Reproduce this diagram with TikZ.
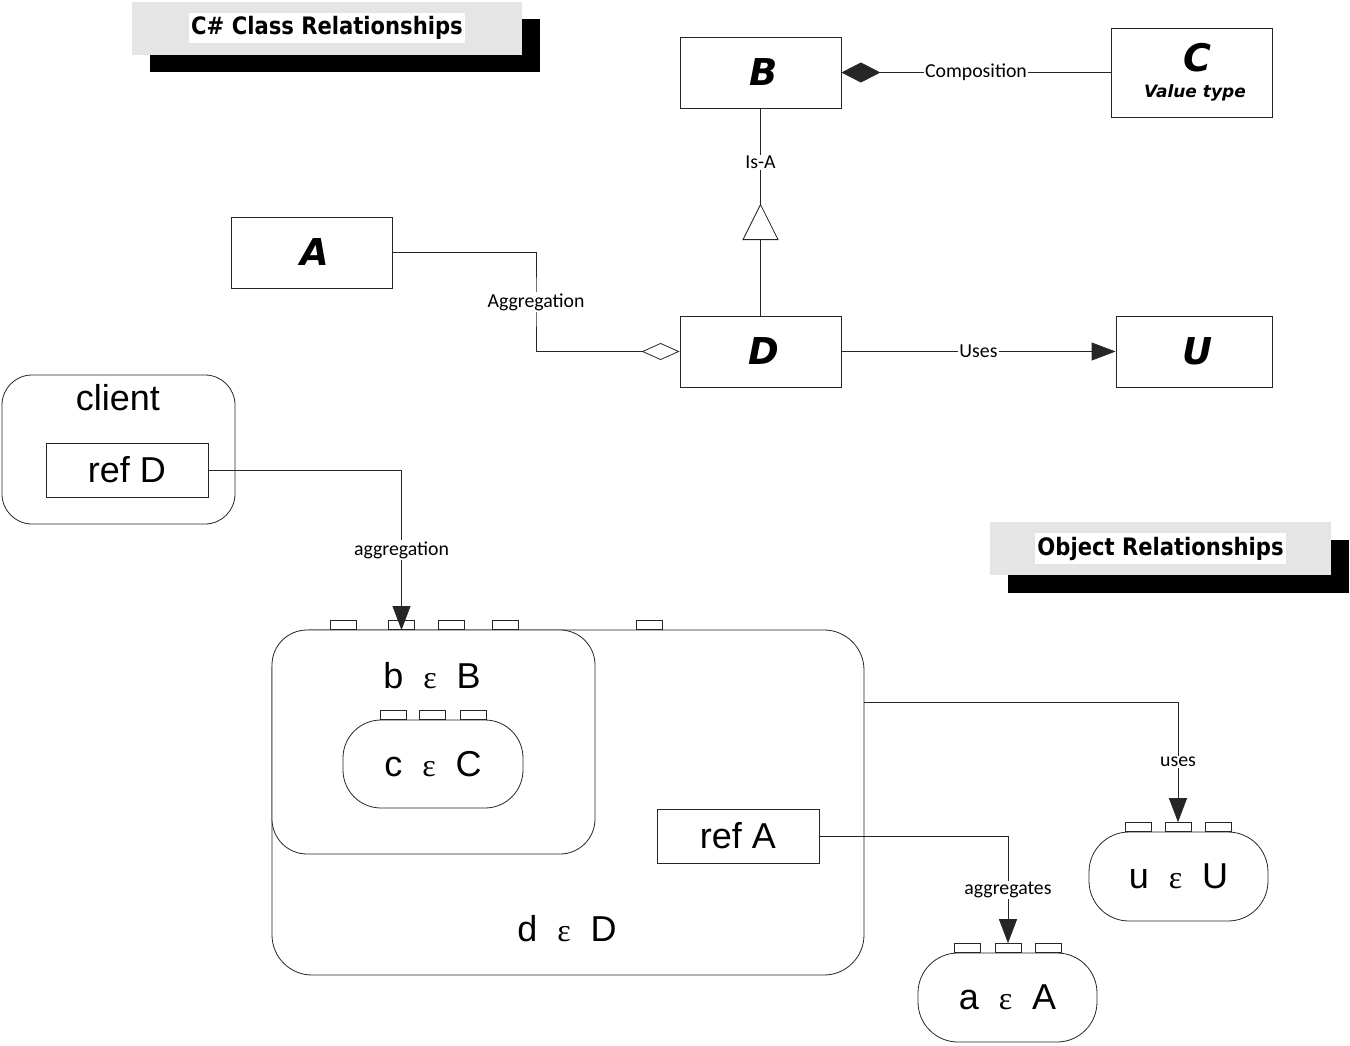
\documentclass[tikz,border=0pt]{standalone}
\usepackage{fontspec}
\setmainfont{Liberation Sans}
\newfontfamily\lblfont{Carlito}
\newfontfamily\headfont{DejaVu Sans}
\newfontfamily\titlefont{DejaVu Sans}[FakeStretch=0.88]
\newfontfamily\epsfont{Liberation Serif}
\usetikzlibrary{arrows.meta,calc}

\newcommand\fsz[1]{\fontsize{#1}{#1}\selectfont}
% "x is a member of X" text: small letter, serif epsilon, capital letter
\newcommand\memberof[2]{#1\hspace{0.55em}{\epsfont\fsz{32}ε}\hspace{0.55em}#2}

\begin{document}
\begin{tikzpicture}[x=1pt,y=-1pt,
  line/.style={draw=black!85, line width=0.8pt},
  cls/.style={line, fill=white, minimum width=161pt, minimum height=71pt,
    inner sep=0pt, font=\headfont\fsz{37}\bfseries\itshape},
  lbl/.style={fill=white, inner sep=1pt, font=\lblfont\fsz{19.8}},
  objtxt/.style={font=\fsz{36}},
  refbox/.style={line, fill=white, minimum width=162pt, minimum height=54pt,
    inner sep=0pt, font=\fsz{36}},
  obj/.style={line, fill=white, inner sep=0pt, font=\fsz{36}},
  port/.style={line, fill=white, minimum width=26pt, minimum height=9pt,
    inner sep=0pt, anchor=south},
  arr/.style={-{Triangle[length=24pt,width=18pt]}},
  shadowbox/.style={fill=black, inner sep=0pt, minimum width=390pt, minimum height=53pt},
  greybox/.style={fill=black!10, inner sep=0pt, minimum width=390pt, minimum height=53pt},
  headtxt/.style={fill=white, inner xsep=2pt, inner ysep=3.5pt,
    font=\titlefont\fsz{24}\bfseries},
]
\useasboundingbox (0,0) rectangle (1350,1045);

% ---------- heading: class relationships ----------
\node[shadowbox] (t1shadow) at (345,45.5) {};
\node[greybox] (t1box) at (327,28) {};
\node[headtxt] (t1) at (t1box.center) {C\# Class Relationships};

% ---------- class diagram ----------
\node[cls] (B) at (760.5,72.5) {\hspace{6pt}B};
\node[cls, minimum height=89pt] (C) at (1191.5,72.5) {};
\node[font=\headfont\fsz{38}\bfseries\itshape] (Cname) at (1197,58) {C};
\node[font=\headfont\fsz{17}\bfseries\itshape] (Ctype) at (1195,93) {Value type};
\node[cls] (A) at (311.5,252.5) {\hspace{6pt}A};
\node[cls] (D) at (760.5,351.5) {\hspace{6pt}D};
\node[cls, minimum width=156pt] (U) at (1194,351.5) {\hspace{8pt}U};

% composition
\draw[line, -{Diamond[length=39pt,width=20pt]}] (C.west) -- node[lbl]{Composition} (B.east);
% inheritance
\draw[line] (B.south) -- node[lbl, pos=0.26]{Is-A} (D.north);
\draw[line, fill=white] ($(D.north)+(-17.5,-76)$) -- ($(D.north)+(0,-111)$)
  -- ($(D.north)+(17.5,-76)$) -- cycle;
% aggregation
\coordinate (aggmid) at ($(A.east)!0.5!(D.west)$);
\draw[line, -{Diamond[open,length=38pt,width=17pt]}] (A.east) -| (aggmid) |- (D.west);
\node[lbl] (agglbl) at (aggmid) {Aggregation};
% uses
\draw[line, arr] (D.east) -- node[lbl]{Uses} (U.west);

% ---------- heading: object relationships ----------
\node[shadowbox, minimum width=341pt] (t2shadow) at (1178.5,566.5) {};
\node[greybox, minimum width=341pt] (t2box) at (1160.5,548.5) {};
\node[headtxt] (t2) at (t2box.center) {Object Relationships};

% ---------- object diagram ----------
\node[obj, rounded corners=30pt, minimum width=233pt, minimum height=149pt] (client) at (118.5,449.5) {};
\node[objtxt] (clientname) at (118,398) {client};
\node[refbox] (refD) at (127,470) {ref D};

\node[obj, rounded corners=40pt, minimum width=592pt, minimum height=345pt] (dobj) at (568,802.5) {};
\node[obj, rounded corners=35pt, minimum width=323pt, minimum height=224pt] (bobj) at (433.5,742) {};
\node[objtxt] (bname) at (432,676) {\memberof{b}{B}};
\node[obj, rounded corners=38pt, minimum width=180pt, minimum height=88pt] (cobj) at (433,764) {\memberof{c}{C}};
\node[refbox] (refA) at (738,836) {ref A};
\node[objtxt] (dname) at (567,929) {\memberof{d}{D}};

\node[obj, rounded corners=40pt, minimum width=179pt, minimum height=89pt] (uobj) at (1178.5,876.5) {\memberof{u}{U}};
\node[obj, rounded corners=40pt, minimum width=179pt, minimum height=89pt] (aobj) at (1007.5,997.5) {\memberof{a}{A}};

% ports
\foreach \px [count=\i] in {343.5,401.5,451,505,649}
  \node[port] (dp\i) at (\px,630) {};
\foreach \px [count=\i] in {393,432.5,473.5}
  \node[port] (cp\i) at (\px,720) {};
\foreach \px [count=\i] in {1138,1178,1218.5}
  \node[port] (up\i) at (\px,832) {};
\foreach \px [count=\i] in {967,1008,1048}
  \node[port] (ap\i) at (\px,953) {};

% object connectors
\draw[line, arr] (refD.east) -| node[lbl, pos=0.75]{aggregation} (dp2.south);
\draw[line, arr] ($(dobj.east)+(0,-100.5)$) -| node[lbl, pos=0.75]{uses} (up2.north);
\draw[line, arr] (refA.east) -| node[lbl, pos=0.75]{aggregates} (ap2.north);
\end{tikzpicture}
\end{document}
